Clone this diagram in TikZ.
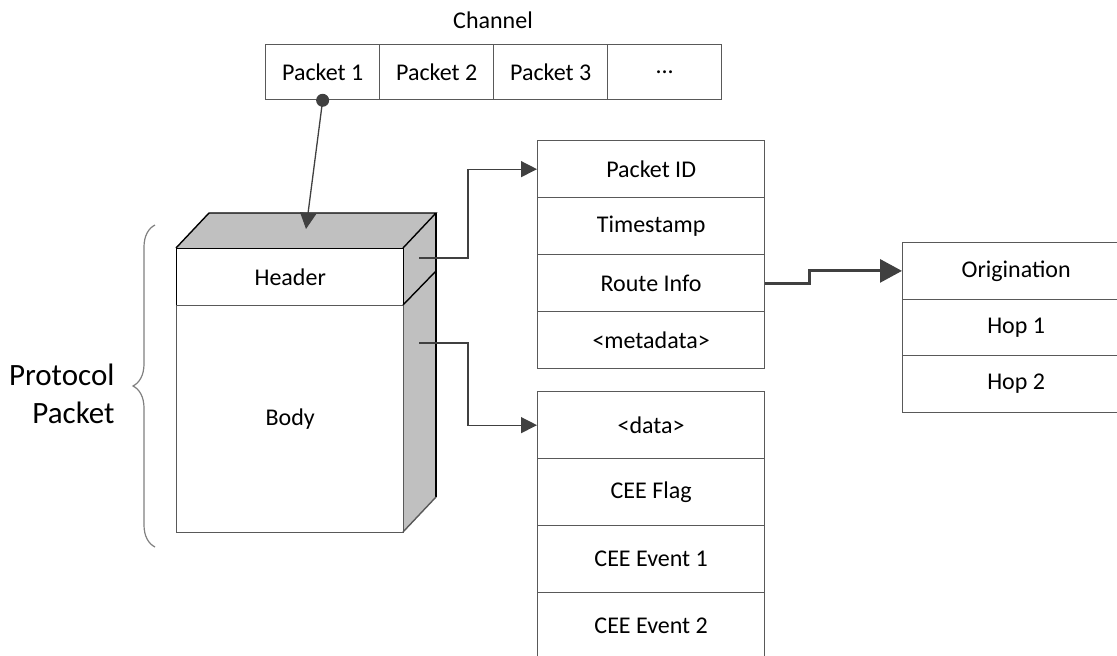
\documentclass[tikz,border=0pt]{standalone}
\usepackage{fontspec}
\setmainfont{Carlito}
\usetikzlibrary{arrows.meta,decorations.pathreplacing}
\definecolor{linegray}{HTML}{595959}
\definecolor{darkgray}{HTML}{404040}
\definecolor{boxgray}{HTML}{C0C0C0}
\definecolor{bracegray}{HTML}{808080}
\begin{document}
\begin{tikzpicture}[x=1pt,y=-1pt,
  lbl/.style={font=\fontsize{24}{28}\selectfont},
  cell/.style={draw=linegray, line width=1.3pt, inner sep=0pt, anchor=north west,
    minimum width=#1, font=\fontsize{24}{28}\selectfont},
  chcell/.style={cell=114pt, minimum height=55pt},
  mcell/.style={cell=227pt, minimum height=57pt},
  rcell/.style={cell=227pt, minimum height=56.5pt},
  dcell/.style={cell=227pt, minimum height=67pt},
  face/.style={draw=black, line width=1.4pt, inner sep=0pt, anchor=north west,
    minimum width=227pt, font=\fontsize{24}{28}\selectfont},
  conn/.style={draw=linegray, line width=1.3pt},
  arr/.style={-{Triangle[length=16pt,width=16pt]}, darkgray},
  bigarr/.style={-{Triangle[length=22pt,width=23pt]}},
  thickconn/.style={draw=darkgray, line width=3pt}
]
\useasboundingbox (0,0) rectangle (1117,656);
\clip (0,0) rectangle (1117,656);

% Channel
\node[lbl] (chan) at (493,20) {Channel};
\node[chcell] (c1) at (265,44) {Packet 1};
\node[chcell] (c2) at (379,44) {Packet 2};
\node[chcell] (c3) at (493,44) {Packet 3};
\node[chcell] (c4) at (607,44) {...};

% 3D box
\fill[boxgray] (176,248) -- (209,213) -- (436,213) -- (403,248) -- cycle;
\fill[boxgray] (403,248) -- (436,213) -- (436,497) -- (403,532) -- cycle;
\node[face, minimum height=57pt] (hdr) at (176,248) {Header};
\node[face, minimum height=227pt, draw=linegray] (body) at (176,305) {Body};
\draw[black, line width=1.4pt] (176,248) -- (209,213) -- (436,213) -- (403,248);
\draw[black, line width=1.4pt] (436,213) -- (436,497);
\draw[linegray, line width=1.4pt] (436,497) -- (403,532);
\draw[black, line width=1.4pt] (403,305) -- (436,271);
\coordinate (tip) at (306,229);

% dot and arrow from packet 1
\node[circle, fill=darkgray, inner sep=0pt, minimum size=13pt] (dot) at (c1.south) {};
\draw[conn, arr] (dot.center) -- (tip);

% brace
\draw[bracegray, line width=1.2pt, decorate, decoration={brace, amplitude=22pt}]
  (155,547) -- (155,225);
\node[font=\fontsize{31}{38}\selectfont, align=right, anchor=east] (pp) at (118,394) {Protocol\\Packet};

% metadata list
\node[mcell] (pid) at (537,140) {Packet ID};
\node[mcell] (ts) at (537,197) {Timestamp};
\node[mcell] (ri) at (537,254) {Route Info};
\node[mcell] (md) at (537,311) {<metadata>};

% data list
\node[dcell] (dat) at (537,391) {<data>};
\node[dcell] (flag) at (537,458) {CEE Flag};
\node[dcell] (ev1) at (537,525) {CEE Event 1};
\node[dcell] (ev2) at (537,592) {CEE Event 2};

% route list
\node[rcell] (orig) at (902,242) {Origination};
\node[rcell] (hop1) at (902,298.5) {Hop 1};
\node[rcell] (hop2) at (902,355) {Hop 2};

% connectors
\coordinate (hs) at (419,258);
\coordinate (bs) at (419,343);
\draw[conn, arr] (hs) -- ++(49,0) |- (pid.west);
\draw[conn, arr] (bs) -- ++(49,0) |- (dat.west);
\draw[thickconn, bigarr, darkgray] (ri.east) -- ++(44,0) |- (orig.west);
\end{tikzpicture}
\end{document}
